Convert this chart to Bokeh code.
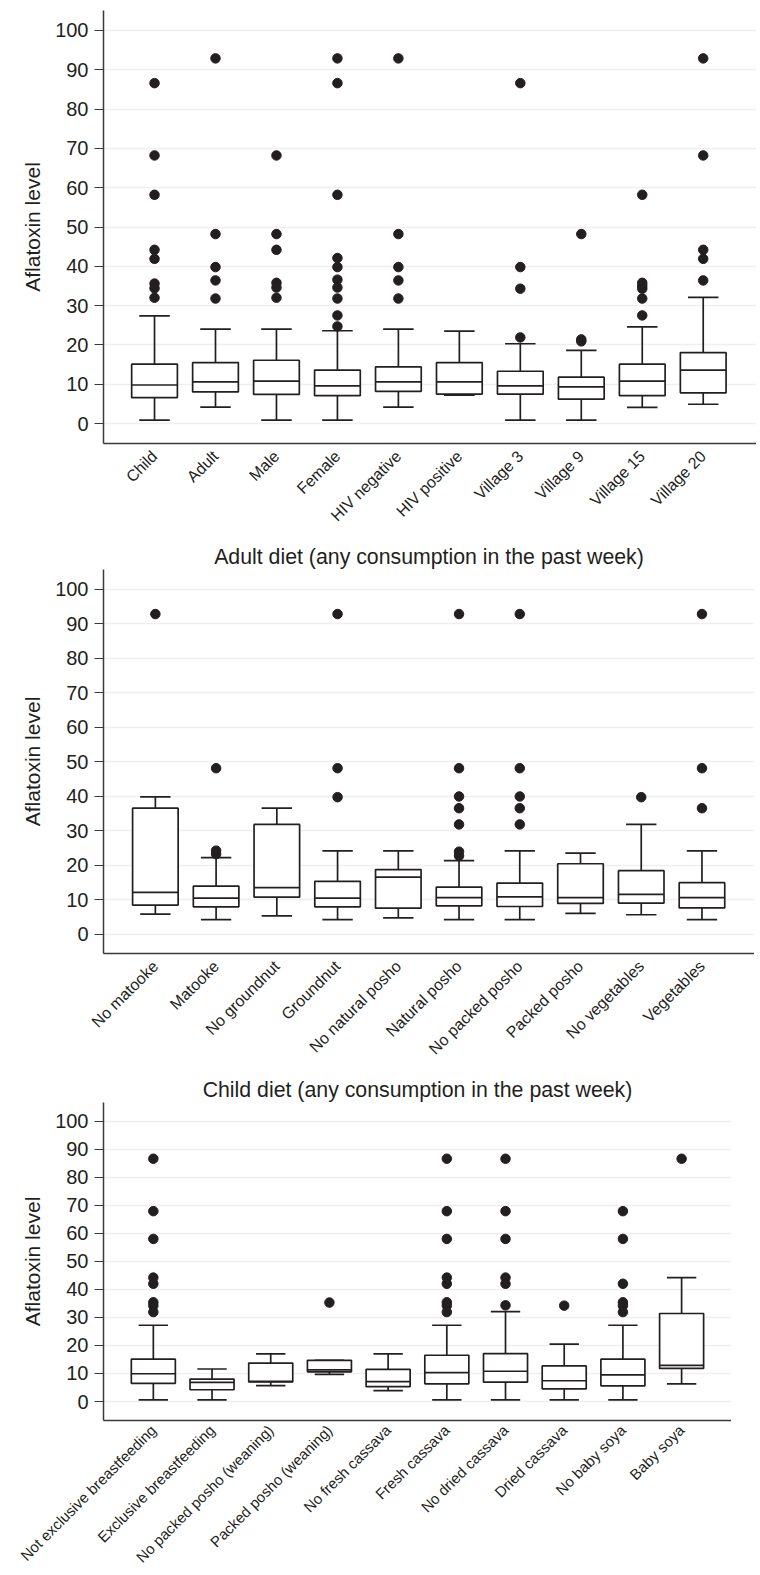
import math
from bokeh.plotting import figure
from bokeh.layouts import column
from bokeh.models import Range1d, FixedTicker, ColumnDataSource
from bokeh.embed import file_html
from bokeh.resources import INLINE

# ---------------- Panel 1 data ----------------
cats1 = ["Child", "Adult", "Male", "Female", "HIV negative", "HIV positive",
         "Village 3", "Village 9", "Village 15", "Village 20"]
q1_1 = [6.6, 8.05, 7.4, 7.1, 8.2, 7.5, 7.5, 6.2, 7.1, 7.8]
med_1 = [9.8, 10.6, 10.8, 9.6, 10.6, 10.6, 9.6, 9.3, 10.8, 13.6]
q3_1 = [15.1, 15.5, 16.1, 13.6, 14.4, 15.5, 13.3, 11.8, 15.1, 18.05]
lo_1 = [0.85, 4.15, 0.85, 0.85, 4.15, 7.2, 0.85, 0.85, 4.1, 4.9]
hi_1 = [27.4, 24.0, 24.0, 23.6, 24.0, 23.5, 20.3, 18.6, 24.6, 32.1]
out_1 = [[86.6, 68.2, 58.2, 44.2, 41.9, 35.6, 34.4, 32.0],
         [92.9, 48.2, 39.8, 36.4, 31.8],
         [68.2, 48.2, 44.2, 35.8, 34.6, 32.0],
         [92.9, 86.6, 58.2, 42.1, 39.8, 36.6, 34.6, 31.8, 27.5, 24.7],
         [92.9, 48.2, 39.8, 36.4, 31.8],
         [],
         [86.6, 39.8, 34.3, 21.9],
         [48.2, 21.4, 20.9],
         [58.2, 35.8, 35.0, 34.3, 31.8, 27.5],
         [92.9, 68.2, 44.2, 41.9, 36.4]]

# ---------------- Panel 2 data ----------------
title2 = "Adult diet (any consumption in the past week)"
cats2 = ["No matooke", "Matooke", "No groundnut", "Groundnut", "No natural posho",
         "Natural posho", "No packed posho", "Packed posho", "No vegetables", "Vegetables"]
q1_2 = [8.4, 7.9, 10.7, 7.9, 7.5, 8.2, 8.0, 8.9, 9.0, 7.6]
med_2 = [12.1, 10.4, 13.5, 10.4, 16.5, 10.6, 10.8, 10.6, 11.5, 10.6]
q3_2 = [36.5, 13.9, 31.8, 15.3, 18.7, 13.6, 14.8, 20.4, 18.4, 14.9]
lo_2 = [5.8, 4.2, 5.3, 4.2, 4.7, 4.2, 4.2, 6.0, 5.6, 4.2]
hi_2 = [39.8, 22.2, 36.5, 24.1, 24.1, 21.3, 24.1, 23.5, 31.8, 24.1]
out_2 = [[92.8],
         [48.1, 24.2, 23.2],
         [],
         [92.8, 48.1, 39.7],
         [],
         [92.8, 48.1, 39.9, 36.5, 31.8, 23.9, 22.7],
         [92.8, 48.1, 39.9, 36.5, 31.8],
         [],
         [39.7],
         [92.8, 48.1, 36.5]]

# ---------------- Panel 3 data ----------------
title3 = "Child diet (any consumption in the past week)"
cats3 = ["Not exclusive breastfeeding", "Exclusive breastfeeding", "No packed posho (weaning)",
         "Packed posho (weaning)", "No fresh cassava", "Fresh cassava", "No dried cassava",
         "Dried cassava", "No baby soya", "Baby soya"]
q1_3 = [6.5, 4.2, 7.0, 10.6, 5.3, 6.3, 6.9, 4.5, 5.6, 11.8]
med_3 = [9.9, 6.8, 7.2, 11.3, 7.1, 10.3, 10.8, 7.4, 9.5, 12.9]
q3_3 = [15.1, 8.0, 13.7, 14.7, 11.5, 16.5, 17.1, 12.7, 15.1, 31.4]
lo_3 = [0.6, 0.6, 5.7, 9.7, 3.9, 0.6, 0.6, 0.6, 0.6, 6.3]
hi_3 = [27.2, 11.6, 17.0, 14.7, 17.0, 27.2, 32.1, 20.5, 27.2, 44.2]
out_3 = [[86.6, 67.9, 58.0, 44.2, 42.0, 35.4, 34.2, 31.9],
         [],
         [],
         [35.3],
         [],
         [86.6, 67.9, 58.0, 44.2, 42.0, 35.4, 34.2, 31.9],
         [86.6, 67.9, 58.0, 44.2, 42.0, 34.3],
         [34.2],
         [67.9, 58.0, 42.0, 35.4, 34.2, 31.9],
         [86.6]]

y_ticks = [0, 10, 20, 30, 40, 50, 60, 70, 80, 90, 100]
y_label = "Aflatoxin level"

INK = "#231f20"
AXIS = "#3a3a3a"
FONT = "Liberation Sans"
BOX_W = 0.75
CAP_W = 0.5


def make_panel(cats, q1, med, q3, lo, hi, outs, title, width, height,
               b_left, b_top, b_bottom, xr, yr, xfont="16px", xstandoff=4):
    p = figure(width=width, height=height, output_backend="svg",
               toolbar_location=None, x_range=Range1d(*xr), y_range=Range1d(*yr),
               min_border_left=b_left, min_border_right=0,
               min_border_top=b_top, min_border_bottom=b_bottom,
               title=title)
    p.outline_line_color = None
    p.background_fill_color = "white"
    p.border_fill_color = "white"
    if title:
        p.title.text_font = FONT
        p.title.text_font_size = "21.3px"
        p.title.text_font_style = "normal"
        p.title.text_color = INK
        p.title.align = "center"
        p.title.standoff = 2

    xs = list(range(1, len(cats) + 1))
    src = ColumnDataSource(dict(
        x=xs, q1=q1, med=med, q3=q3, lo=lo, hi=hi,
        bl=[x - BOX_W / 2 for x in xs], br=[x + BOX_W / 2 for x in xs],
        cl=[x - CAP_W / 2 for x in xs], cr=[x + CAP_W / 2 for x in xs]))

    # whiskers
    p.segment(x0="x", y0="q3", x1="x", y1="hi", source=src, line_color=INK, line_width=1.7)
    p.segment(x0="x", y0="q1", x1="x", y1="lo", source=src, line_color=INK, line_width=1.7)
    p.segment(x0="cl", y0="hi", x1="cr", y1="hi", source=src, line_color=INK, line_width=1.7)
    p.segment(x0="cl", y0="lo", x1="cr", y1="lo", source=src, line_color=INK, line_width=1.7)
    # boxes
    p.quad(left="bl", right="br", bottom="q1", top="q3", source=src,
           fill_color="white", line_color=INK, line_width=1.7)
    # medians
    p.segment(x0="bl", y0="med", x1="br", y1="med", source=src, line_color=INK, line_width=1.7)

    # outliers
    ox, oy = [], []
    for x, vals in zip(xs, outs):
        for v in vals:
            ox.append(x)
            oy.append(v)
    p.scatter(ox, oy, size=9.5, fill_color=INK, line_color=INK)

    # axes
    p.xaxis.ticker = FixedTicker(ticks=xs)
    p.xaxis.major_label_overrides = {x: c for x, c in zip(xs, cats)}
    p.xaxis.major_label_orientation = math.pi / 4
    p.xaxis.major_label_text_font = FONT
    p.xaxis.major_label_text_font_size = xfont
    p.xaxis.major_label_text_color = INK
    p.xaxis.major_tick_line_color = None
    p.xaxis.minor_tick_line_color = None
    p.xaxis.axis_line_color = AXIS
    p.xaxis.axis_line_width = 1.5
    p.xaxis.major_label_standoff = xstandoff

    p.yaxis.ticker = FixedTicker(ticks=y_ticks)
    p.yaxis.axis_label = y_label
    p.yaxis.axis_label_text_font = FONT
    p.yaxis.axis_label_text_font_size = "21px"
    p.yaxis.axis_label_text_font_style = "normal"
    p.yaxis.axis_label_text_color = INK
    p.yaxis.axis_label_standoff = 8
    p.yaxis.major_label_text_font = FONT
    p.yaxis.major_label_text_font_size = "20px"
    p.yaxis.major_label_text_color = INK
    p.yaxis.major_tick_out = 9
    p.yaxis.major_tick_in = 0
    p.yaxis.major_tick_line_color = AXIS
    p.yaxis.major_tick_line_width = 1.2
    p.yaxis.minor_tick_line_color = None
    p.yaxis.axis_line_color = AXIS
    p.yaxis.axis_line_width = 1.5
    p.yaxis.major_label_standoff = 6

    p.xgrid.grid_line_color = None
    p.ygrid.ticker = FixedTicker(ticks=y_ticks)
    p.ygrid.grid_line_color = "#efefef"
    p.ygrid.grid_line_width = 1.5
    return p


p1 = make_panel(cats1, q1_1, med_1, q3_1, lo_1, hi_1, out_1, None,
                width=756, height=536, b_left=103, b_top=10, b_bottom=93,
                xr=(0.163, 10.874), yr=(-5.085, 105.085))
p2 = make_panel(cats2, q1_2, med_2, q3_2, lo_2, hi_2, out_2, title2,
                width=754, height=533, b_left=101, b_top=33, b_bottom=116,
                xr=(0.146, 10.865), yr=(-5.63, 105.72))
p3 = make_panel(cats3, q1_3, med_3, q3_3, lo_3, hi_3, out_3, title3,
                width=731, height=506, b_left=101, b_top=33, b_bottom=155,
                xr=(0.151, 10.85), yr=(-6.77, 106.66), xfont="15px", xstandoff=1)

layout = column(p1, p2, p3)
open("out.html", "w").write(file_html(layout, INLINE))
